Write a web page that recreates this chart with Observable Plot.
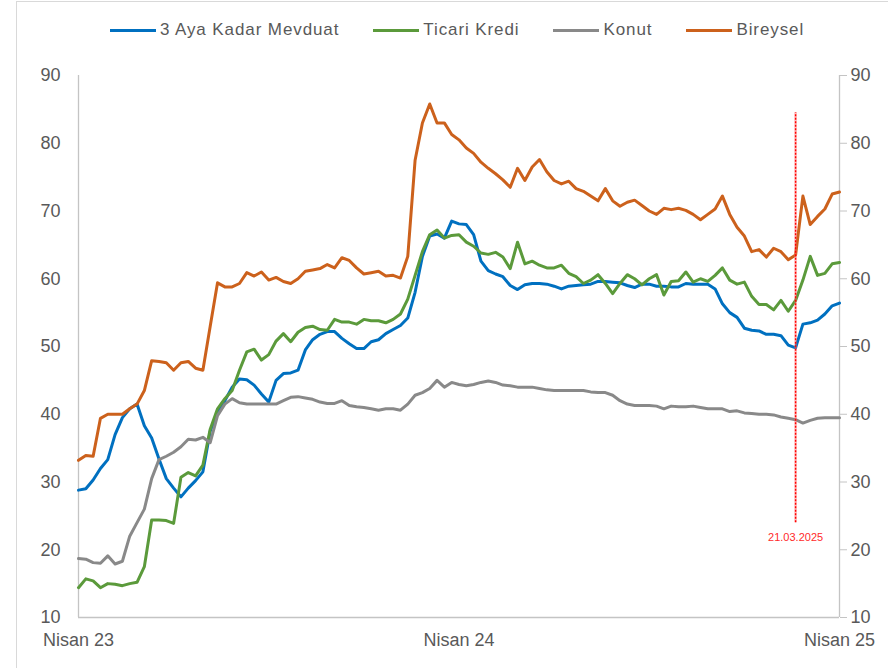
<!DOCTYPE html>
<html>
<head>
<meta charset="utf-8">
<script src="https://cdn.jsdelivr.net/npm/d3@7"></script>
<script src="https://cdn.jsdelivr.net/npm/@observablehq/plot@0.6"></script>
<style>
  body { margin: 0; background: #fff; font-family: "Liberation Sans", Arial, sans-serif; }
  #wrap { position: relative; width: 888px; height: 668px; overflow: hidden; }
  #border { position: absolute; left: 16px; top: 1px; width: 900px; height: 700px; border: 1px solid #d9d9d9; box-sizing: border-box; }
  #legend { position: absolute; left: 0; top: 0; width: 888px; height: 60px; display: flex; align-items: center; padding-left: 110px; box-sizing: border-box; }
  .item { display: flex; align-items: center; margin-right: 34px; font-size: 17px; letter-spacing: 0.9px; color: #595959; }
  .sw { width: 46px; height: 3px; margin-right: 4px; }
  #chart { position: absolute; left: 0; top: 60px; }
</style>
</head>
<body>
<div id="wrap">
  <div id="border"></div>
  <div id="legend"></div>
  <div id="chart"></div>
</div>
<script>
const seriesNames = ["3 Aya Kadar Mevduat", "Ticari Kredi", "Konut", "Bireysel"];
const seriesColors = ["#0070c0", "#5b9a3b", "#898989", "#cc611c"];

const mevduat = [28.8,29,30.3,32,33.3,37,39.5,40.8,41.5,38.3,36.5,33.4,30.5,29.1,27.8,29.1,30.2,31.5,37.5,40.3,
  42,44,45.2,45.1,44.3,43,41.8,45,46,46.1,46.5,49.5,51,51.8,52.2,52.2,51.2,50.4,49.7,49.7,
  50.7,51,51.9,52.5,53.1,54.2,58,63.3,66.3,66.6,66,68.5,68.1,68,66.5,62.6,61.2,60.7,60.3,59,
  58.4,59.1,59.3,59.3,59.2,58.9,58.5,58.9,59,59.1,59.2,59.6,59.6,59.5,59.4,59,58.7,59.2,59.2,58.9,
  58.9,58.8,58.8,59.3,59.2,59.2,59.2,58.5,56.3,55,54.3,52.7,52.4,52.3,51.8,51.8,51.6,50.2,49.8,53.3,
  53.5,53.9,54.8,56,56.4];
const ticari = [14.4,15.7,15.4,14.4,15,14.9,14.7,15,15.2,17.5,24.4,24.4,24.3,23.9,30.7,31.4,30.9,32.5,37.8,40.8,
  42.3,43.5,46.5,49.2,49.6,48,48.8,50.8,51.9,50.7,52.1,52.8,53,52.5,52.4,54,53.6,53.6,53.3,54,
  53.8,53.8,53.5,54,54.8,57,60.5,64,66.5,67.2,66,66.4,66.5,65.4,64.8,63.8,63.6,63.9,63.2,61.5,
  65.4,62.2,62.6,62,61.6,61.6,62,60.8,60.3,59.3,59.8,60.6,59.3,57.8,59.3,60.6,60,59.1,60,60.6,
  57.6,59.6,59.7,61,59.5,60,59.6,60.5,61.6,59.8,59.2,59.5,57.4,56.2,56.2,55.4,56.8,55.2,56.8,59.8,
  63.3,60.5,60.8,62.2,62.4];
const konut = [18.7,18.6,18.1,18,19.1,17.9,18.3,22,24,26,30.5,33.3,33.8,34.4,35.2,36.3,36.2,36.6,35.8,39.8,
  41.5,42.3,41.7,41.5,41.5,41.5,41.5,41.5,42,42.5,42.6,42.4,42.2,41.8,41.6,41.6,42,41.3,41.1,41,
  40.8,40.6,40.8,40.8,40.6,41.5,42.8,43.2,43.8,45,44,44.7,44.4,44.2,44.4,44.7,44.9,44.7,44.3,44.2,
  44,44,44,43.8,43.6,43.5,43.5,43.5,43.5,43.5,43.3,43.2,43.2,42.8,42,41.5,41.3,41.3,41.3,41.2,
  40.8,41.2,41.1,41.1,41.2,41,40.8,40.8,40.8,40.4,40.5,40.2,40.1,40,40,39.9,39.6,39.4,39.2,38.7,
  39.1,39.4,39.5,39.5,39.5];
const bireysel = [33.2,33.9,33.8,39.4,40,40,40,40.8,41.5,43.5,47.9,47.8,47.6,46.5,47.6,47.8,46.8,46.5,53,59.4,
  58.8,58.8,59.3,60.9,60.4,61,59.8,60.2,59.6,59.3,60,61.1,61.3,61.5,62.1,61.6,63.1,62.7,61.6,60.7,
  60.9,61.1,60.4,60.5,60.1,63.3,77.5,83,85.8,83,83,81.3,80.5,79.3,78.5,77.2,76.3,75.5,74.6,73.5,
  76.3,74.5,76.5,77.6,75.8,74.5,74,74.4,73.3,72.9,72.2,71.5,73.3,71.5,70.7,71.3,71.6,70.8,70,69.5,
  70.4,70.2,70.4,70.1,69.5,68.7,69.5,70.3,72.2,69.5,67.6,66.3,64,64.3,63.2,64.5,64,62.8,63.5,72.2,
  68,69.2,70.3,72.5,72.8];

const yTicks = [10,20,30,40,50,60,70,80,90];
const xTickIndex = [0, 52, 104];
const xTickLabels = ["Nisan 23", "Nisan 24", "Nisan 25"];

const markerIndex = [98];
const markerLabel = ["21.03.2025"];
const markerRange = [24, 84.5];
const markerLabelValue = [21.8];

const allSeries = [mevduat, ticari, konut, bireysel];

// legend
const legend = document.getElementById("legend");
seriesNames.forEach((name, k) => {
  const it = document.createElement("div");
  it.className = "item";
  const sw = document.createElement("div");
  sw.className = "sw";
  sw.style.background = seriesColors[k];
  const tx = document.createElement("span");
  tx.textContent = name;
  it.appendChild(sw); it.appendChild(tx);
  legend.appendChild(it);
});

const xDomain = [0, bireysel.length - 1];
const lineMarks = allSeries.map((arr, k) =>
  Plot.line(arr, {x: (d, i) => i, y: d => d, stroke: seriesColors[k], strokeWidth: 3})
);

const markers = markerIndex.map((m, i) => ({x: m, y1: markerRange[0], y2: markerRange[1], ly: markerLabelValue[i], label: markerLabel[i]}));

const chart = Plot.plot({
  width: 888,
  height: 608,
  marginLeft: 78,
  marginRight: 49,
  marginTop: 15,
  marginBottom: 51,
  x: {domain: xDomain, label: null},
  y: {domain: [yTicks[0], yTicks[yTicks.length - 1]], label: null},
  style: {fontFamily: "'Liberation Sans', Arial, sans-serif", fontSize: "18px", color: "#595959", background: "transparent", overflow: "visible"},
  marks: [
    Plot.ruleY([yTicks[0]], {stroke: "#c4c4c4", strokeWidth: 1.3}),
    Plot.ruleX(xDomain, {y1: yTicks[0], y2: yTicks[yTicks.length - 1], stroke: "#c4c4c4", strokeWidth: 1.3}),
    Plot.axisY({ticks: yTicks, anchor: "left", tickSize: 0, tickPadding: 18, fill: "#595959", label: null}),
    Plot.axisY({ticks: yTicks, anchor: "right", tickSize: 7, tickPadding: 4, stroke: "#c4c4c4", fill: "#595959", label: null}),
    Plot.axisX({ticks: xTickIndex, tickFormat: (d) => xTickLabels[xTickIndex.indexOf(d)], tickSize: 0, tickPadding: 16, fill: "#595959", label: null}),
    ...lineMarks,
    Plot.ruleX(markers, {x: "x", y1: "y1", y2: "y2", stroke: "#ff6b6b", strokeWidth: 2.6, strokeOpacity: 0.45}),
    Plot.ruleX(markers, {x: "x", y1: "y1", y2: "y2", stroke: "#ff0000", strokeWidth: 1.4, strokeDasharray: "2,1.5"}),
    Plot.text(markers, {x: "x", y: "ly", text: "label", fill: "#ff2a2a", fontSize: 11})
  ]
});
document.getElementById("chart").appendChild(chart);
</script>
</body>
</html>
